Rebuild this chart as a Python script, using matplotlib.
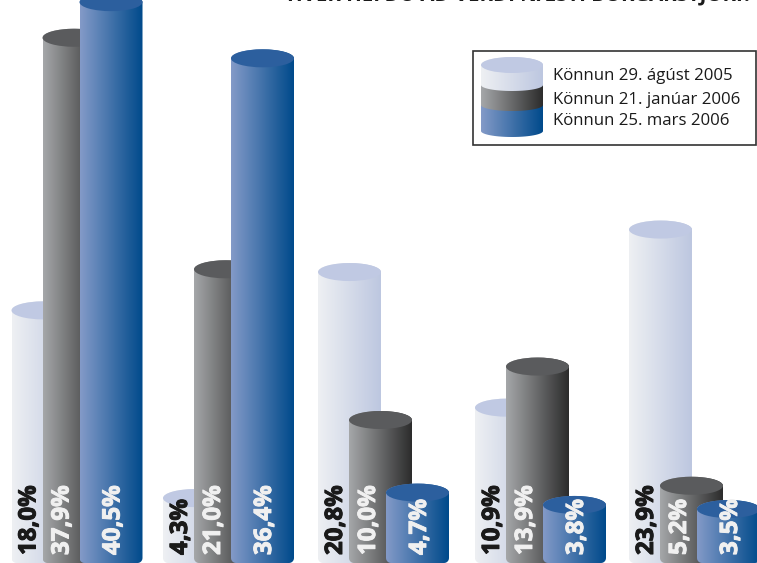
# -*- coding: utf-8 -*-
import numpy as np
import matplotlib
import matplotlib.pyplot as plt
import matplotlib.patheffects as pe
from matplotlib.colors import LinearSegmentedColormap
from matplotlib.patches import Ellipse, PathPatch, Rectangle
from matplotlib.path import Path

matplotlib.use('agg')

series_names = ['Könnun 29. ágúst 2005', 'Könnun 21. janúar 2006', 'Könnun 25. mars 2006']
aug_2005 = [18.0, 4.3, 20.8, 10.9, 23.9]
jan_2006 = [37.9, 21.0, 10.0, 13.9, 5.2]
mar_2006 = [40.5, 36.4, 4.7, 3.8, 3.5]
title = 'HVER HEFÐU AÐ VERÐI NÆSTI BORGARSTJÓRI?'

PX_PER_PCT = 13.7
BASE_PX = 557
W, H = 757, 563
BAR_W = 63
GROUP_X = [11.5, 163, 318, 475, 629]
OFFSETS = [0, 31, 68]
LABEL_OFFSETS = [18, 20, 34]
CAP_H = 18 / PX_PER_PCT

grads = [('#eef0f3', '#bdc7e0'), ('#a5a7a9', '#2c2c2c'), ('#839ac8', '#004a8b')]
caps = ['#c0c9e3', '#5a5b5d', '#2c5f9e']
text_cols = ['#1a1a1a', '#f0f0f0', '#f0f0f0']

fig = plt.figure(figsize=(W / 100, H / 100), dpi=100)
ax = fig.add_axes([0, 0, 1, 1])
ax.set_xlim(0, W)
ax.set_ylim((BASE_PX - H) / PX_PER_PCT, BASE_PX / PX_PER_PCT)
ax.axis('off')
y_bottom, y_top = ax.get_ylim()


def px_y(p):
    return (BASE_PX - p) / PX_PER_PCT


def body(x, w, y0, y1, idx, cap_h=CAP_H, sag=0.0, zorder=2):
    # gradient image clipped to the cylinder outline
    cmap = LinearSegmentedColormap.from_list('g', grads[idx])
    gradient = np.linspace(0, 1, 128).reshape(1, -1)
    im = ax.imshow(gradient, cmap=cmap, extent=[x, x + w, y0 - sag, y1 + cap_h], aspect='auto', zorder=zorder)
    t = np.linspace(np.pi, 0, 40)
    top = list(zip(x + w / 2 + w / 2 * np.cos(t), y1 + cap_h / 2 * np.sin(t)))
    if sag > 0:
        t2 = np.linspace(0, -np.pi, 40)
        low = list(zip(x + w / 2 + w / 2 * np.cos(t2), y0 + sag * np.sin(t2)))
    else:
        # flat bottom with small rounded corners
        r = 5
        a = np.linspace(0, -np.pi / 2, 8)
        right = [(x + w - r + r * np.cos(s), y0 + (r + r * np.sin(s)) / PX_PER_PCT) for s in a]
        left = [(x + r - r * np.cos(s), y0 + (r + r * np.sin(s)) / PX_PER_PCT) for s in a[::-1]]
        low = right + left
    clip = PathPatch(Path(top + low + [top[0]]), transform=ax.transData, fc='none', ec='none')
    ax.add_patch(clip)
    im.set_clip_path(clip)


for g, gx in enumerate(GROUP_X):
    vals = [aug_2005[g], jan_2006[g], mar_2006[g]]
    for i, v in enumerate(vals):
        x = gx + OFFSETS[i]
        body(x, BAR_W, y_bottom, v, i, zorder=2 + i)
        ax.add_patch(Ellipse((x + BAR_W / 2, v), BAR_W, CAP_H, fc=caps[i], ec='none', zorder=2 + i))
    for i, v in enumerate(vals):
        label = f'{v:.1f}%'.replace('.', ',')
        txt = ax.text(gx + OFFSETS[i] + LABEL_OFFSETS[i], px_y(555), label, rotation=90, ha='center', va='bottom',
                      fontsize=17.3, fontweight='bold', family='Open Sans', color=text_cols[i], zorder=10)
        txt.set_path_effects([pe.withStroke(linewidth=0.7, foreground=text_cols[i])])
ax.set_xlim(0, W)
ax.set_ylim(y_bottom, y_top)

# title is cut by the top edge, as in the original
ax.text(752, y_top + 5 / PX_PER_PCT, title, ha='right', va='center', fontsize=14.7,
        fontweight='bold', family='Open Sans', color='#1a1a1a', zorder=10, clip_on=True)

# legend box
ax.add_patch(Rectangle((473, px_y(145)), 283, 94 / PX_PER_PCT, fc='white', ec='#333333', lw=1.2, zorder=20))
leg_low = [85, 105, 131]
leg_high = [65, 85, 105]
for i in [2, 1, 0]:
    body(481, 62, px_y(leg_low[i]), px_y(leg_high[i]), i, cap_h=16 / PX_PER_PCT, sag=6 / PX_PER_PCT,
         zorder=21 + (2 - i))
ax.add_patch(Ellipse((512, px_y(leg_high[0])), 62, 16 / PX_PER_PCT, fc=caps[0], ec='none', zorder=24))
for name, py in zip(series_names, [76, 100, 121]):
    ax.text(553, px_y(py), name, ha='left', va='center', fontsize=12.1, family='Open Sans',
            color='#1a1a1a', zorder=30)
ax.set_xlim(0, W)
ax.set_ylim(y_bottom, y_top)

fig.savefig('out.png', dpi=100)
